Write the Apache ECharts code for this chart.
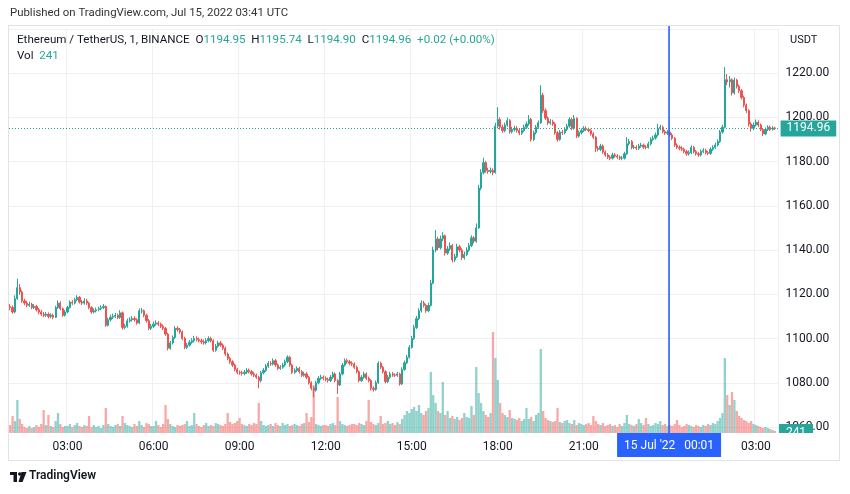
<!DOCTYPE html>
<html><head><meta charset="utf-8">
<script src="https://cdn.jsdelivr.net/npm/echarts@6/dist/echarts.min.js"></script>
<style>html,body{margin:0;padding:0;background:#fff}#c{width:850px;height:494px}</style>
</head><body><div id="c"></div>
<script>
// ETH/USDT, Binance — resampled to 5-minute candles, 14 Jul 2022 01:00 UTC .. 15 Jul 03:45
const startTime = '01:00';
const firstOpen = 1114.5;
const closeP = [
1114,1112,1118,1123,1121,1117,1116,1115,1115.5,1114,1114.5,1113,
1112,1111,1110.5,1111,1110,1110.5,1109.6,1114,1116,1113.5,1110.5,1112,
1114,1116.4,1116,1117.5,1118.6,1116.5,1116,1117,1116,1114,1112,1112.5,
1113,1113.5,1114,1114.5,1106,1108.5,1109.6,1110,1110.5,1109.5,1111.6,1105,
1105.5,1108,1108.5,1109,1108.5,1107,1112.5,1112.5,1110.5,1108,1104.6,1105.5,
1106.5,1107,1106.5,1105.5,1104.6,1102,1095.6,1098,1100.5,1104.6,1104,1103,
1100,1096,1097,1098.3,1099,1100,1099.5,1099,1098.5,1098,1099,1100,
1099,1094.7,1096.5,1098,1097,1095.6,1093,1091,1089.5,1088,1086,1084.7,
1084.5,1084.2,1084.8,1085.6,1085,1084,1083.4,1082.5,1081,1084.5,1085.6,1087.5,
1088.8,1088.5,1090,1088,1086.5,1087,1088,1089.5,1091.5,1088,1084.7,1085.5,
1086.5,1085,1083.4,1084,1082.5,1080,1077.5,1076.6,1080,1082,1082.5,1082,
1081.5,1081,1082.5,1084,1081,1079,1084,1088,1090,1089.5,1088.8,1088.5,
1087,1085,1081,1082.5,1084,1082,1081,1077.5,1077,1080,1088.8,1087,
1085,1080.5,1082.5,1084,1083.5,1083.4,1084,1079.5,1086,1089,1091.5,1096,
1100,1105,1109,1112.5,1116,1115,1112.5,1115,1125,1140,1145,1141,
1145,1146.5,1138.6,1140.5,1142,1135.5,1137,1141.5,1140,1136.5,1138,1140,
1142,1145.5,1144,1150,1168,1175,1179.5,1176,1175.5,1176,1175,1196,
1199,1195.5,1194,1196.5,1198.5,1193.5,1194.5,1195,1194,1192.8,1194,1195.5,
1197,1199,1190,1193,1195.5,1197.5,1210,1203,1199.6,1197.4,1198,1197,
1193,1190,1193.3,1193,1194.5,1196,1199,1195,1199.5,1191.5,1193,1194,
1195,1194.5,1194,1192.5,1191,1186,1185.5,1187,1184.3,1183,1182,1181.5,
1183,1182.5,1182,1181.5,1181.5,1183.5,1188,1189,1186.4,1186.5,1186,1187,
1187.4,1186.5,1186.4,1188,1190,1190.6,1192,1195,1195.5,1193.5,1192.8,1193.3,
1192,1190.5,1187.4,1186.5,1186,1185.5,1184.5,1183.5,1184,1186.4,1184.5,1183.5,
1183,1184.5,1185,1184,1183.7,1185.5,1186.4,1187.5,1189,1193.3,1195.5,1217,
1216,1217,1211,1216.8,1214,1212,1209,1205.5,1203,1197,1195,1196.5,
1197.8,1196.5,1194.5,1192.5,1194.5,1195.5,1194.5,1195.2,1194.96
];
const highP = [
1115.6,1115,1119.5,1127,1124.5,1121.8,1118,1117,1116.6,1116.2,1115.5,1115.2,
1113.8,1112.9,1112,1112,1111.8,1111.4,1111.2,1114.8,1117.2,1116.8,1114,1112.9,
1114.8,1117.2,1117.3,1118.4,1119.6,1119.2,1117.4,1118.2,1117.9,1116.6,1114.6,1113.6,
1114,1114.4,1115,1115.6,1115,1109.4,1110.8,1111.2,1111.6,1111.3,1112.8,1112.2,
1106.6,1109,1109.6,1110.2,1110,1109.2,1113.6,1113.8,1113.1,1111.2,1108.8,1106.6,
1107.6,1108.2,1107.9,1107.2,1106.3,1105.2,1102.6,1098.9,1101.4,1105.6,1105.5,1104.8,
1103.6,1100.8,1098,1099.3,1100.1,1101.2,1101,1100.4,1099.9,1099.5,1100.1,1101,
1100.8,1099.6,1097.5,1099,1098.9,1097.7,1096.3,1093.7,1091.8,1090.2,1088.7,1086.8,
1085.6,1085.4,1085.8,1086.6,1086.4,1085.8,1084.9,1084.1,1083.2,1085.3,1086.6,1088.4,
1089.8,1089.7,1091,1090.7,1088.8,1088,1089,1090.5,1092.4,1092.2,1088.6,1086.5,
1087.4,1087.2,1085.7,1085,1084.8,1083.1,1080.7,1078.3,1080.9,1083,1083.6,1083.3,
1082.9,1082.3,1083.5,1085,1084.7,1081.7,1084.9,1088.9,1091,1090.9,1090.3,1089.7,
1089.2,1087.8,1085.6,1083.5,1085,1084.7,1082.8,1081.6,1078.4,1081,1089.7,1089.5,
1087.7,1085.6,1083.5,1085,1084.9,1084.3,1085,1084.6,1087,1090,1092.5,1097,
1101.2,1106.2,1110.2,1113.7,1117.2,1117,1115.8,1116.2,1126.5,1141.5,1149,1146,
1146.5,1148,1147,1141.8,1143.4,1142.7,1138.3,1142.8,1142.4,1140.8,1139.3,1141.2,
1143.2,1146.6,1146.3,1152,1169.5,1176.5,1181.7,1180.3,1177.2,1177.3,1177,1197.5,
1204.6,1200,1196.6,1197.6,1199.8,1199.2,1195.7,1196.2,1196,1194.8,1195.1,1196.6,
1198.1,1201,1199.7,1194,1196.5,1198.6,1214.5,1211,1204,1200.4,1199.2,1198.9,
1197.7,1193.7,1194.2,1194.3,1195.5,1197,1200,1199.8,1201,1200,1194,1195,
1196,1195.9,1195.3,1194.8,1193.3,1191.6,1187,1188,1187.7,1185,1183.8,1182.8,
1184,1183.8,1183.3,1182.8,1182.5,1184.4,1191,1190.2,1189.7,1187.5,1187.3,1188,
1188.4,1188.1,1187.4,1189,1191,1191.7,1193.1,1197,1196.6,1196.2,1194.3,1194.3,
1194,1192.8,1191.1,1188.2,1187.3,1186.9,1186.2,1185.3,1185,1187.3,1187,1185.2,
1184.3,1185.5,1186,1185.8,1184.8,1186.4,1187.4,1188.5,1190,1194.3,1196.6,1222.7,
1219.5,1218.6,1217.6,1218,1217.4,1214.8,1212.7,1209.8,1206.2,1203.6,1197.8,1197.7,
1199,1198.6,1197.2,1195.2,1195.4,1196.4,1196.2,1196,1195.74
];
const lowP = [
1112.8,1111.2,1111.5,1117.5,1119.8,1116.2,1115,1114.2,1114.3,1113.2,1113.3,1112.2,
1111,1110.2,1109.6,1109.8,1109.1,1109.2,1108.8,1109.2,1113.4,1112.8,1109.8,1109.9,
1111.4,1113.5,1115.2,1115.4,1116.9,1115.8,1115.1,1115.3,1115.2,1113.2,1111.2,1111.3,
1111.8,1112.3,1112.8,1113.3,1105.2,1105.4,1107.7,1108.8,1109.2,1108.7,1108.9,1104,
1104.2,1104.9,1107.2,1107.6,1107.6,1106.2,1106.5,1111.3,1109.6,1107.2,1103.8,1103.9,
1104.8,1105.8,1105.6,1104.7,1103.8,1101.2,1094.6,1094.9,1097.3,1099.8,1103.1,1102.2,
1099.2,1095.2,1095.3,1096.4,1097.6,1098.2,1098.7,1098.2,1097.6,1097.2,1097.3,1098.3,
1098.2,1093.9,1094,1095.8,1096.2,1094.8,1092.2,1090.2,1088.6,1087.1,1085.2,1083.8,
1083.6,1083.3,1083.4,1084,1084.2,1083.2,1082.6,1081.7,1077.5,1080.2,1083.8,1084.9,
1086.8,1087.6,1087.8,1087.2,1085.7,1085.8,1086.3,1087.3,1088.8,1087.2,1083.9,1084,
1084.8,1084.2,1082.6,1082.7,1081.6,1079.2,1076.6,1073.4,1076,1079.3,1081.2,1081.1,
1080.6,1080.1,1080.3,1081.8,1080.2,1075,1078.5,1083.4,1087.3,1088.6,1087.9,1087.6,
1086.2,1084.2,1080.2,1080.3,1081.8,1081.2,1080.2,1076.5,1076,1076.4,1079.5,1086.2,
1084.2,1079.7,1079.9,1081.8,1082.7,1082.6,1082.7,1078.7,1079,1085.4,1088.4,1090.9,
1095.4,1099.3,1104.3,1108.2,1111.8,1114,1111.6,1111.9,1114.4,1124.5,1139,1139.8,
1140.2,1144,1137.5,1137.8,1139.6,1134.4,1134.6,1136.3,1139,1135.5,1135.7,1137.2,
1139.2,1141.3,1143,1143.3,1149.5,1167,1174.2,1175,1174.5,1174.6,1173.8,1174.5,
1195,1194.4,1193,1193.2,1195.7,1192.6,1192.7,1193.6,1193.1,1191.9,1192,1193.3,
1194.8,1196.2,1189,1189.3,1192.2,1194.8,1197,1202,1198.8,1196.5,1196.6,1196.1,
1192.1,1189,1189.4,1192.1,1192.3,1193.8,1195.3,1194.1,1194.4,1190.6,1190.8,1192.3,
1193.3,1193.7,1193.2,1191.7,1190.2,1184.3,1184.6,1184.8,1183.5,1182.2,1181.2,1180.6,
1180.9,1181.7,1181.2,1180.7,1180.6,1180.9,1183,1187.2,1185.6,1185.6,1185.2,1185.3,
1186.3,1185.7,1185.5,1185.8,1187.3,1189.2,1189.9,1191.3,1194.2,1192.7,1192,1192,
1191.2,1189.7,1186.6,1185.7,1185.1,1184.7,1183.7,1182.6,1182.7,1183.3,1183.7,1182.7,
1182.1,1182.3,1183.8,1183.2,1182.9,1183,1184.8,1185.7,1186.8,1188.4,1192.6,1195,
1214.5,1213.5,1209.8,1210.3,1213,1211,1208,1204.5,1202,1195.8,1193.5,1194.2,
1195.8,1195.6,1193.7,1191.5,1191.9,1193.8,1193.8,1194,1194.3
];
const volume = [
960,2040,1440,3960,1680,1080,720,600,840,600,720,960,
720,1080,2760,960,2160,840,720,1440,2400,1080,720,840,
840,1080,720,960,1200,840,720,960,840,2040,720,960,
720,840,600,960,3000,1080,840,720,960,1080,840,2040,
1200,960,840,720,1080,840,1440,960,720,1200,1080,840,
840,1440,960,720,1080,3360,1680,1080,840,720,960,840,
960,1080,1440,840,960,2400,1080,840,720,960,1200,840,
960,840,1200,1080,960,840,1080,2400,1320,1080,1200,1440,
1800,1080,960,840,1080,960,1200,1080,3600,1440,960,840,
960,1080,840,1200,960,840,1200,960,1080,840,960,1080,
960,840,1080,1200,2400,1320,1920,5760,1080,960,840,960,
960,840,1080,1200,960,4320,1440,1080,960,840,960,1080,
1080,960,1200,1080,960,1440,3960,1320,1080,960,1200,2040,
1080,1200,1440,1080,1200,960,1320,1080,1680,2160,2640,2400,
2880,3120,2640,3360,2400,2160,2640,3000,7320,4560,3600,2640,
2400,6120,2160,2640,1800,2040,1680,1920,1560,1800,2400,1920,
1800,3240,2160,7920,4800,3600,2640,2160,1920,2400,12120,9000,
6360,3600,2400,2160,1920,2760,1800,1680,1560,1800,1440,1680,
3000,1680,1920,1440,2160,2400,10080,2640,1800,1560,1440,1320,
1440,3000,1320,1200,1440,1560,1200,1080,1560,960,1200,1080,
960,1080,1200,960,2040,1440,1080,960,1200,840,960,1080,
840,960,720,1080,840,1200,2160,1080,960,840,1080,1680,
1200,960,1800,1080,840,960,1200,1080,1440,960,1080,840,
960,840,1080,1560,960,720,840,1080,960,840,720,960,
840,720,960,840,1080,960,1200,1080,1440,1800,2400,9000,
4560,3360,4920,3960,2640,2040,1800,1560,1440,1200,1440,1080,
960,840,720,600,720,600,480,360,241
];
const timeTickLabels = ['03:00','06:00','09:00','12:00','15:00','18:00','21:00','00:00','03:00'];
const lastPrice = 1194.96;
const lastVolume = 241;
const header = {o:'1194.95', h:'1195.74', l:'1194.90', c:'1194.96', chg:'+0.02 (+0.00%)'};

const UP = '#26a69a', DOWN = '#ef5350', TXT = '#131722', GRID = '#eef0f4';
const FONT = 'Roboto, "Open Sans", sans-serif';
const pad = n => (n < 10 ? '0' : '') + n;
const nCat = closeP.length + 1;
const cats = [];
const [sh, sm] = startTime.split(':').map(Number);
for (let i = 0; i < nCat; i++) {
  const m = sh * 60 + sm + 5 * i;
  cats.push(pad(Math.floor(m / 60) % 24) + ':' + pad(m % 60));
}
const openP = [firstOpen].concat(closeP.slice(0, closeP.length - 1));
const candles = closeP.map((c, i) => [openP[i], c, lowP[i], highP[i]]);
const volData = volume.map((v, i) => ({
  value: v,
  itemStyle: {color: closeP[i] >= openP[i] ? 'rgba(38,166,154,0.5)' : 'rgba(239,83,80,0.5)'}
}));
const showTick = (idx, val) => timeTickLabels.indexOf(val) >= 0;

const chart = echarts.init(document.getElementById('c'), null, {renderer: 'canvas'});
const option = {
  animation: false,
  textStyle: {fontFamily: FONT},
  grid: [
    {left: 9, top: 28.8, width: 769.6, height: 398.2},
    {left: 9, top: 28.8, width: 769.6, height: 404.2}
  ],
  xAxis: [
    {type: 'category', gridIndex: 0, data: cats, boundaryGap: true, show: false},
    {type: 'category', gridIndex: 1, data: cats, boundaryGap: true,
     axisLine: {show: false}, axisTick: {show: false},
     axisLabel: {interval: showTick, color: TXT, fontSize: 12, margin: 8, fontFamily: FONT},
     splitLine: {show: true, interval: showTick, lineStyle: {color: GRID, width: 1}}}
  ],
  yAxis: [
    {type: 'value', gridIndex: 0, position: 'right', min: 1060, max: 1240, interval: 20,
     axisLine: {show: false}, axisTick: {show: false},
     axisLabel: {color: TXT, fontSize: 12, margin: 7, showMaxLabel: false, fontFamily: FONT,
                 formatter: v => v.toFixed(2)},
     splitLine: {lineStyle: {color: GRID, width: 1}}},
    {type: 'value', gridIndex: 1, min: 0, max: 48500, show: false}
  ],
  series: [
    {type: 'bar', xAxisIndex: 1, yAxisIndex: 1, data: volData, barWidth: 2.3, z: 1, silent: true},
    {type: 'candlestick', xAxisIndex: 0, yAxisIndex: 0, data: candles, barWidth: 1.7, z: 3,
     itemStyle: {color: UP, color0: DOWN, borderColor: UP, borderColor0: DOWN, borderWidth: 1},
     markLine: {symbol: ['none', 'none'], silent: true, animation: false,
       data: [{yAxis: lastPrice}],
       lineStyle: {color: UP, type: [1, 2], width: 1},
       label: {show: true, position: 'end', formatter: lastPrice.toFixed(2), color: '#fff',
               backgroundColor: UP, padding: [2, 6, 2, 6], lineHeight: 12, fontSize: 12,
               distance: 2, fontFamily: FONT}}}
  ]
};
chart.setOption(option);

const xc = chart.convertToPixel({xAxisIndex: 1}, 276) - 0.8;
const pb = chart.convertToPixel({yAxisIndex: 1}, 0);
chart.setOption({
  graphic: [
    {type: 'rect', z: 0, silent: true, shape: {x: 8.5, y: 25.5, width: 831, height: 435},
     style: {fill: 'none', stroke: '#e0e3eb', lineWidth: 1}},
    {type: 'text', z: 50, x: 10, y: 8, style: {text: 'Published on TradingView.com, Jul 15, 2022 03:41 UTC',
     fill: '#333', fontSize: 11.4, fontFamily: FONT}},
    {type: 'text', z: 50, x: 17, y: 34, style: {
      text: '{a|Ethereum / TetherUS, 1, BINANCE}  {a|O}{g|' + header.o + '}  {a|H}{g|' + header.h +
            '}  {a|L}{g|' + header.l + '}  {a|C}{g|' + header.c + '}  {g|' + header.chg + '}',
      fontSize: 11.6, fontFamily: FONT, fill: TXT,
      rich: {a: {fill: TXT, fontSize: 11.6, fontFamily: FONT}, g: {fill: UP, fontSize: 11.6, fontFamily: FONT}}}},
    {type: 'text', z: 50, x: 17, y: 50, style: {
      text: '{a|Vol}  {g|' + lastVolume + '}', fontSize: 11.6, fontFamily: FONT, fill: TXT,
      rich: {a: {fill: TXT, fontSize: 11.6, fontFamily: FONT}, g: {fill: UP, fontSize: 11.6, fontFamily: FONT}}}},
    {type: 'text', z: 50, x: 790, y: 35, style: {text: 'USDT', fill: TXT, fontSize: 11, fontFamily: FONT}},
    {type: 'rect', z: 60, shape: {x: 779, y: pb - 9, width: 34, height: 9}, style: {fill: UP}},
    {type: 'text', z: 61, x: 796, y: pb - 0.5, style: {text: String(lastVolume), fill: '#fff', fontSize: 12,
     fontFamily: FONT, align: 'center', verticalAlign: 'middle'}},
    {type: 'rect', z: 62, shape: {x: 779, y: pb + 0.5, width: 36, height: 7}, style: {fill: '#fff'}},
    {type: 'line', z: 70, shape: {x1: xc, y1: 26, x2: xc, y2: pb}, style: {stroke: '#2962ff', lineWidth: 1.6}},
    {type: 'rect', z: 70, shape: {x: xc - 52, y: pb, width: 104, height: 24}, style: {fill: '#2962ff'}},
    {type: 'text', z: 71, x: xc, y: pb + 12.5, style: {text: "15 Jul '22   00:01", fill: '#fff', fontSize: 12,
     fontFamily: FONT, align: 'center', verticalAlign: 'middle'}},
    {type: 'group', z: 50, children: [
      {type: 'rect', shape: {x: 10, y: 472, width: 7, height: 3}, style: {fill: TXT}},
      {type: 'rect', shape: {x: 13.5, y: 472, width: 3.5, height: 10}, style: {fill: TXT}},
      {type: 'circle', shape: {cx: 19.8, cy: 474, r: 1.8}, style: {fill: TXT}},
      {type: 'polygon', shape: {points: [[21.5, 472], [26.5, 472], [22.5, 482], [18.5, 482]]}, style: {fill: TXT}}
    ]},
    {type: 'text', z: 50, x: 29, y: 470, style: {text: 'TradingView', fill: TXT, fontSize: 12,
     fontWeight: 600, fontFamily: FONT}}
  ]
});
</script>
</body></html>
